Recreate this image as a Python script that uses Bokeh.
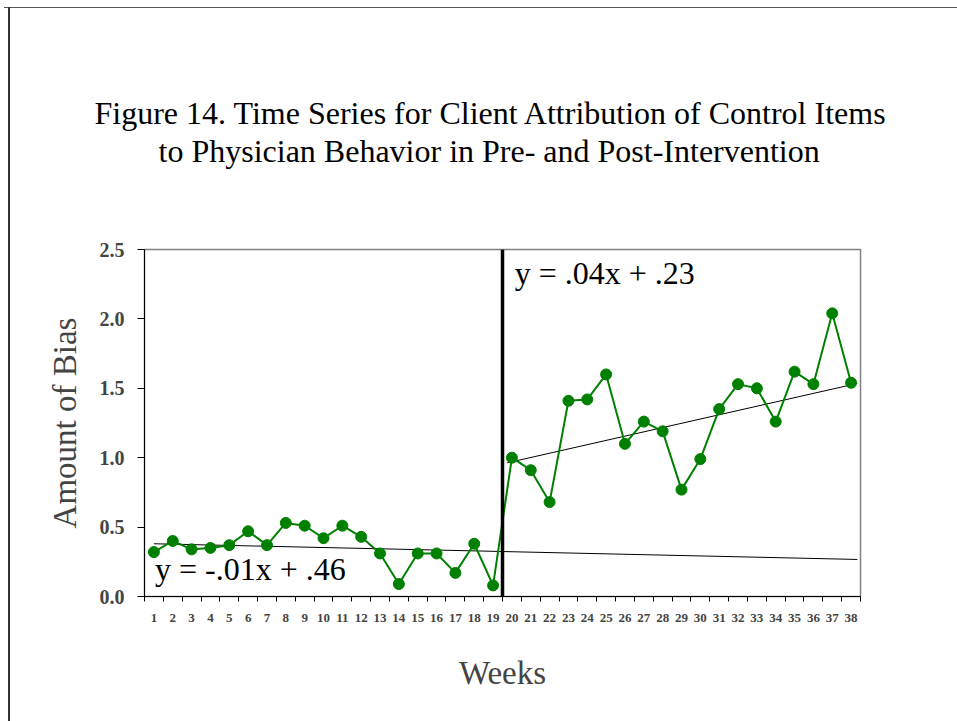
from bokeh.plotting import figure
from bokeh.models import FixedTicker, Span, Label, NumeralTickFormatter, Range1d, Title
from bokeh.embed import file_html
from bokeh.resources import INLINE

# ---- data ----
weeks = [1, 2, 3, 4, 5, 6, 7, 8, 9, 10, 11, 12, 13, 14, 15, 16, 17, 18, 19,
         20, 21, 22, 23, 24, 25, 26, 27, 28, 29, 30, 31, 32, 33, 34, 35, 36, 37, 38]
bias = [0.32, 0.40, 0.34, 0.35, 0.37, 0.47, 0.37, 0.53, 0.51, 0.42, 0.51, 0.43, 0.31,
        0.09, 0.31, 0.31, 0.17, 0.38, 0.08,
        1.00, 0.91, 0.68, 1.41, 1.42, 1.60, 1.10, 1.26, 1.19, 0.77, 0.99, 1.35, 1.53,
        1.50, 1.26, 1.62, 1.53, 2.04, 1.54]
pre_trend_x = [1.0, 38.33]
pre_trend_y = [0.38, 0.267]
post_trend_x = [19.75, 38.33]
post_trend_y = [0.963, 1.535]
intervention_week = 19.5
y_ticks = [0.0, 0.5, 1.0, 1.5, 2.0, 2.5]
pre_eq = "y = -.01x + .46"
post_eq = "y = .04x + .23"
title_lines = ["Figure 14. Time Series for Client Attribution of Control Items",
               "to Physician Behavior in Pre- and Post-Intervention"]

SERIF = "Liberation Serif"
GREEN = "#008000"

p = figure(output_backend="svg", toolbar_location=None,
           frame_width=716, frame_height=347,
           min_border_left=144, min_border_right=97,
           min_border_top=249, min_border_bottom=125,
           x_range=Range1d(0.5, 38.5), y_range=Range1d(0, 2.5))

# slide frame (thin lines at the top and left edges of the page)
p.border_fill_color = None
p.background_fill_color = "white"
p.styles = {"background": ("linear-gradient(#333333,#333333) 8px 7px / 2px 100% no-repeat, "
                           "linear-gradient(#555555,#555555) 4px 7px / 100% 1px no-repeat, "
                           "#ffffff")}

p.grid.visible = False
p.outline_line_color = "#808080"
p.outline_line_width = 1.5

# title (two lines, each centred over x ~ 489 px), with a spacer above the frame
spacer = Title(text=" ", standoff=78, text_font_size="1px", text_color="white")
t2 = Title(text=title_lines[1], align="left", offset=14, standoff=0,
           text_font=SERIF, text_font_style="normal", text_font_size="32px",
           text_color="black")
t1 = Title(text=title_lines[0], align="left", offset=-50, standoff=0,
           text_font=SERIF, text_font_style="normal", text_font_size="32px",
           text_color="black")
p.add_layout(spacer, "above")
p.add_layout(t2, "above")
p.add_layout(t1, "above")

# x axis
xa = p.xaxis[0]
xa.ticker = FixedTicker(ticks=weeks, minor_ticks=[w - 0.5 for w in weeks] + [weeks[-1] + 0.5])
xa.major_tick_out = 0
xa.major_tick_in = 0
xa.minor_tick_out = 5
xa.minor_tick_in = 0
xa.minor_tick_line_color = "black"
xa.axis_line_color = "black"
xa.major_label_text_font = SERIF
xa.major_label_text_font_style = "bold"
xa.major_label_text_font_size = "13px"
xa.major_label_standoff = 12
xa.axis_label = "Weeks"
xa.axis_label_text_font = SERIF
xa.axis_label_text_font_style = "normal"
xa.axis_label_text_font_size = "33px"
xa.axis_label_standoff = 30

# y axis
ya = p.yaxis[0]
ya.ticker = FixedTicker(ticks=y_ticks)
ya.formatter = NumeralTickFormatter(format="0.0")
ya.minor_tick_line_color = None
ya.major_tick_out = 7
ya.major_tick_in = 0
ya.axis_line_color = "black"
ya.major_label_text_font = SERIF
ya.major_label_text_font_style = "bold"
ya.major_label_text_font_size = "20px"
ya.major_label_standoff = 13
ya.axis_label = "Amount of Bias"
ya.axis_label_text_font = SERIF
ya.axis_label_text_font_style = "normal"
ya.axis_label_text_font_size = "33px"
ya.axis_label_standoff = 14

# trend lines
p.line(pre_trend_x, pre_trend_y, line_color="black", line_width=1)
p.line(post_trend_x, post_trend_y, line_color="black", line_width=1)

# series
p.line(weeks, bias, line_color=GREEN, line_width=2)
p.scatter(weeks, bias, size=11, fill_color=GREEN, line_color=GREEN)

# intervention line
p.add_layout(Span(location=intervention_week, dimension="height",
                  line_color="black", line_width=3.5))

# equations
p.add_layout(Label(x=1.06, y=0.20, text=pre_eq, text_font=SERIF,
                   text_font_size="32px", text_baseline="alphabetic", text_color="black"))
p.add_layout(Label(x=20.15, y=2.33, text=post_eq, text_font=SERIF,
                   text_font_size="32px", text_baseline="alphabetic", text_color="black"))

open("out.html", "w").write(file_html(p, INLINE))
